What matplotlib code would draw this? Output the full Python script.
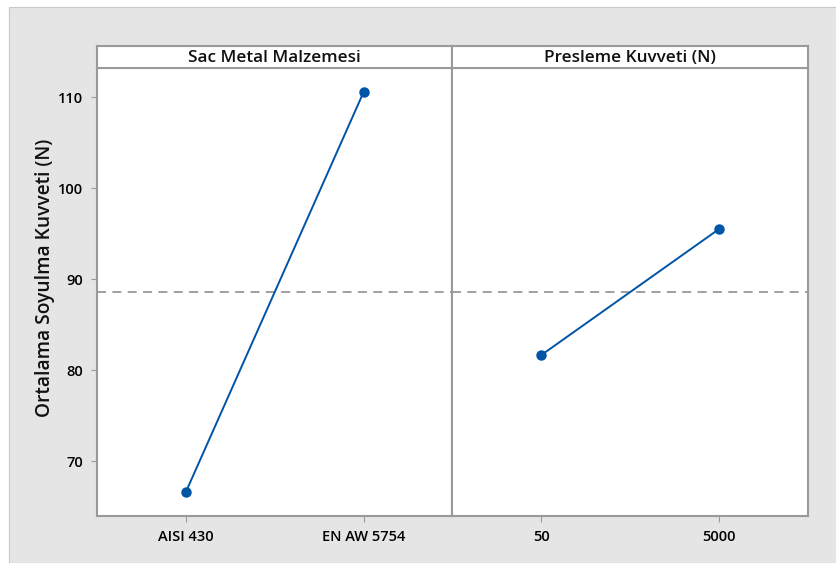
import matplotlib
matplotlib.use('Agg')
import matplotlib.pyplot as plt
from matplotlib.patches import Rectangle

plt.rcParams['font.family'] = ['Open Sans', 'DejaVu Sans']

# Main effects: factor levels and mean response at each level
factors = ['Sac Metal Malzemesi', 'Presleme Kuvveti (N)']
levels = [['AISI 430', 'EN AW 5754'], ['50', '5000']]
means = [[66.6, 110.55], [81.65, 95.5]]
grand_mean = 88.58
yticks = [70, 80, 90, 100, 110]

W, H = 837, 563
fig = plt.figure(figsize=(W / 100, H / 100), dpi=100, facecolor='white')

# gray backdrop behind the whole graph
fig.patches.append(Rectangle((9 / W, 0), 1 - 9 / W, 1 - 7 / H, transform=fig.transFigure,
                             facecolor='#e5e5e5', edgecolor='#c8c8c8', lw=0.8, zorder=-5))

left, right, top, bottom = 97, 808, 68, 516
hdr = 22
mid = (left + right) / 2
edge = '#9a9a9a'
blue = '#0054a6'

axes = []
for i in range(2):
    x0 = left if i == 0 else mid
    x1 = mid if i == 0 else right
    ax = fig.add_axes([x0 / W, 1 - bottom / H, (x1 - x0) / W, (bottom - top) / H])
    hx = fig.add_axes([x0 / W, 1 - top / H, (x1 - x0) / W, hdr / H])
    hx.set_facecolor('white')
    hx.set_xticks([])
    hx.set_yticks([])
    for s in hx.spines.values():
        s.set_color(edge)
        s.set_linewidth(1.5)
    hx.text(0.5, 0.47, factors[i], ha='center', va='center', fontsize=12.3,
            fontweight='semibold', color='#111111', transform=hx.transAxes)

    xs = [1, 2]
    ax.set_facecolor('white')
    ax.plot(xs, means[i], color=blue, lw=1.4, marker='o', ms=6.5, zorder=3)
    ax.axhline(grand_mean, color='#999999', lw=1.3, ls=(0, (5, 3.5)), zorder=2)
    ax.set_xlim(0.5, 2.5)
    ax.set_ylim(63.96, 113.19)
    ax.set_xticks(xs)
    ax.set_xticklabels(levels[i], fontsize=10.5, fontweight='semibold')
    ax.set_yticks(yticks)
    ax.tick_params(length=4, width=0.8, color=edge, pad=6)
    for s in ax.spines.values():
        s.set_color(edge)
        s.set_linewidth(1.5)
    if i == 0:
        ax.set_yticklabels([str(v) for v in yticks], fontsize=10.5, fontweight='semibold')
    else:
        ax.tick_params(axis='y', left=False, labelleft=False)
    axes.append(ax)

fig.text(45 / W, 1 - 278 / H, 'Ortalama Soyulma Kuvveti (N)', rotation=90,
         ha='center', va='center', fontsize=13.8, fontweight='semibold', color='#111111')

fig.savefig('out.png', dpi=100, facecolor='white')
